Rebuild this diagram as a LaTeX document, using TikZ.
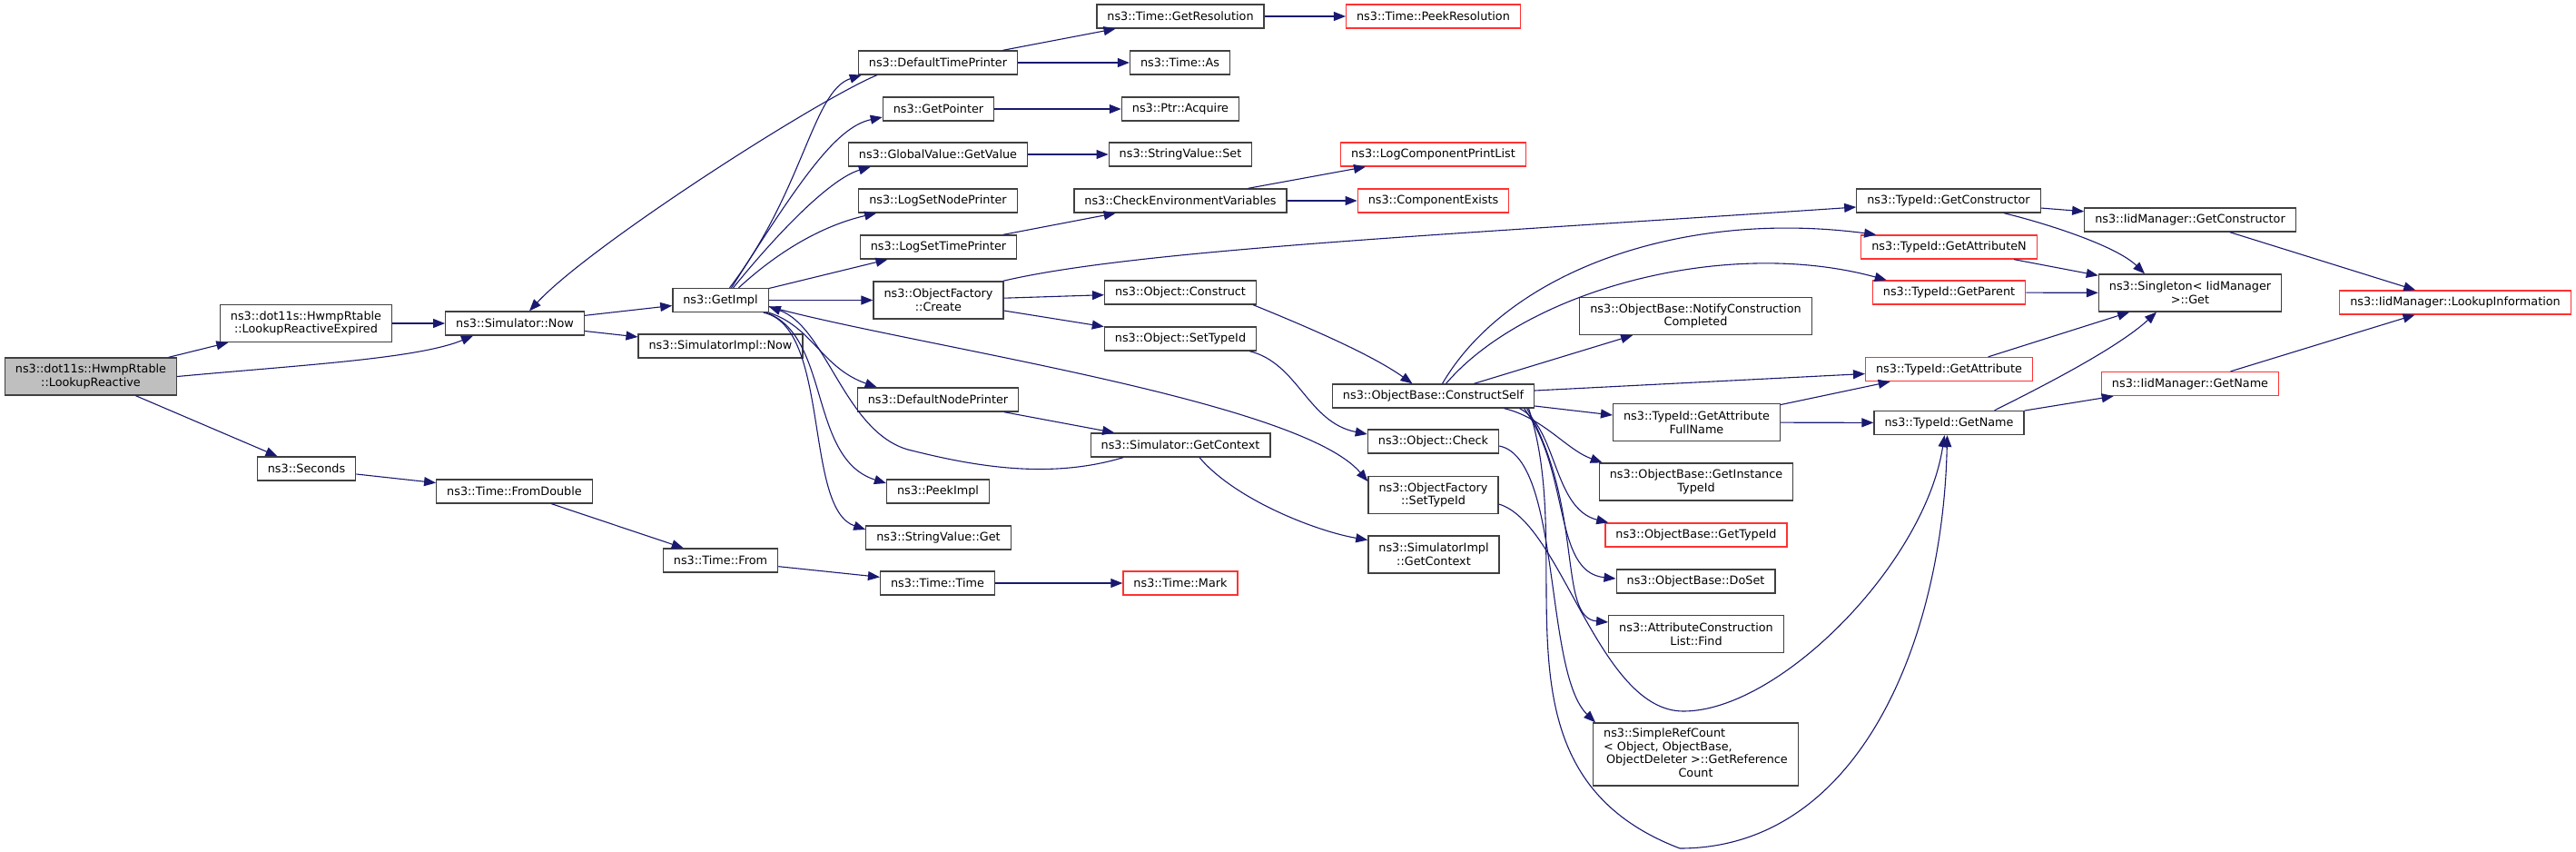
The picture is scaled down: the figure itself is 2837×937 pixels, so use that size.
\documentclass[tikz,border=0pt]{standalone}
\usepackage{fontspec}
\setmainfont{DejaVu Sans}
\usepackage{xcolor}
\usepackage{tikz}
\usetikzlibrary{arrows.meta}
\definecolor{doxblue}{RGB}{25,25,112}
\definecolor{doxred}{RGB}{255,50,50}
\definecolor{doxgray}{RGB}{191,191,191}
\definecolor{doxedge}{RGB}{64,64,64}
\tikzset{
  fnbox/.style={draw=doxedge, line width=1.3pt, fill=white, align=center,
    font=\fontsize{12.8}{14.8}\selectfont, inner xsep=11.5pt, inner ysep=0pt,
    minimum height=26pt},
  two/.style={minimum height=41pt},
  four/.style={minimum height=69pt},
  undoc/.style={draw=doxred},
  mainfn/.style={fill=doxgray},
  calls/.style={draw=doxblue, line width=1.1pt, -{Triangle[length=13pt,width=10pt]}}
}
\newcommand{\fn}[4][]{\node[fnbox,#1] (#2) at (#3) {#4}}

\begin{document}
\begin{tikzpicture}[x=1pt,y=-1pt]
    \useasboundingbox (0,0) rectangle (2837,937);

    \fn[two,mainfn]{lr}{100,414.5}{ns3::dot11s::HwmpRtable\\::LookupReactive};
    \fn[two]{lre}{337,356}{ns3::dot11s::HwmpRtable\\::LookupReactiveExpired};
    \fn{snow}{567,356}{ns3::Simulator::Now};
    \fn{getimpl}{793.5,330.5}{ns3::GetImpl};
    \fn{simplnow}{793.5,381}{ns3::SimulatorImpl::Now};
    \fn{seconds}{337.5,516}{ns3::Seconds};
    \fn{fromdouble}{566.5,541}{ns3::Time::FromDouble};
    \fn{tfrom}{793.5,617}{ns3::Time::From};

    \fn{dtp}{1033,69}{ns3::DefaultTimePrinter};
    \fn{getptr}{1033.5,120}{ns3::GetPointer};
    \fn{gvget}{1033,170}{ns3::GlobalValue::GetValue};
    \fn{lsnp}{1033,221}{ns3::LogSetNodePrinter};
    \fn{lstp}{1033.5,272}{ns3::LogSetTimePrinter};
    \fn[two]{ofcreate}{1033.5,330.5}{ns3::ObjectFactory\\::Create};
    \fn{dnp}{1033,440}{ns3::DefaultNodePrinter};
    \fn{peekimpl}{1033,541}{ns3::PeekImpl};
    \fn{svget}{1033.5,592}{ns3::StringValue::Get};
    \fn{ttime}{1032.5,642}{ns3::Time::Time};

    \fn{getres}{1300,18}{ns3::Time::GetResolution};
    \fn{timeas}{1299.5,69}{ns3::Time::As};
    \fn{acquire}{1300,120}{ns3::Ptr::Acquire};
    \fn{svset}{1300,170}{ns3::StringValue::Set};
    \fn{cev}{1300,221}{ns3::CheckEnvironmentVariables};
    \fn{oconstruct}{1300,322}{ns3::Object::Construct};
    \fn{osettid}{1300,373}{ns3::Object::SetTypeId};
    \fn{sgctx}{1300,490}{ns3::Simulator::GetContext};
    \fn[undoc]{tmark}{1300,642}{ns3::Time::Mark};

    \fn[undoc]{peekres}{1578.5,18}{ns3::Time::PeekResolution};
    \fn[undoc]{lcpl}{1578.5,170}{ns3::LogComponentPrintList};
    \fn[undoc]{compex}{1578.5,221}{ns3::ComponentExists};
    \fn{cself}{1578.5,436}{ns3::ObjectBase::ConstructSelf};
    \fn{ocheck}{1578.5,486}{ns3::Object::Check};
    \fn[two]{ofsettid}{1578.5,545}{ns3::ObjectFactory\\::SetTypeId};
    \fn[two]{simplctx}{1579,610.5}{ns3::SimulatorImpl\\::GetContext};

    \fn[two]{notify}{1867.5,348}{ns3::ObjectBase::NotifyConstruction\\Completed};
    \fn[two]{gafull}{1868.5,465}{ns3::TypeId::GetAttribute\\FullName};
    \fn[two]{gitid}{1868,530.5}{ns3::ObjectBase::GetInstance\\TypeId};
    \fn[undoc]{gtid}{1868,589}{ns3::ObjectBase::GetTypeId};
    \fn{doset}{1867.5,640}{ns3::ObjectBase::DoSet};
    \fn[two]{find}{1868,698}{ns3::AttributeConstruction\\List::Find};
    \fn[four]{srefc}{1867.5,830.5}{\begin{tabular}{@{}l@{}}ns3::SimpleRefCount\\
      < Object, ObjectBase,\\ \hspace{3pt}ObjectDeleter >::GetReference\\
      \multicolumn{1}{@{}c@{}}{Count}\end{tabular}};

    \fn{getctor}{2146,221}{ns3::TypeId::GetConstructor};
    \fn[undoc]{gattrn}{2146.5,272}{ns3::TypeId::GetAttributeN};
    \fn[undoc]{gparent}{2146.5,322}{ns3::TypeId::GetParent};
    \fn[undoc]{gattr}{2146.5,406.5}{ns3::TypeId::GetAttribute};
    \fn{getname}{2146.5,465.5}{ns3::TypeId::GetName};

    \fn{iidgetctor}{2412,242}{ns3::IidManager::GetConstructor};
    \fn[two]{singleton}{2412,322.5}{ns3::Singleton< IidManager\\>::Get};
    \fn[undoc]{iidgetname}{2412,422.5}{ns3::IidManager::GetName};
    \fn[undoc]{lookupinfo}{2704,333}{ns3::IidManager::LookupInformation};

    % callers on the left
    \draw[calls] (lr) -- (lre);
    \draw[calls] (lr.east) .. controls (330,402) and (460,395) .. ([xshift=-46]snow.south);
    \draw[calls] (lr) -- (seconds);
    \draw[calls] (lre) -- (snow);
    \draw[calls] (snow) -- (getimpl);
    \draw[calls] (snow) -- (simplnow);
    \draw[calls] ([xshift=-67]dtp.south) .. controls (900,110) and (650,270) .. ([xshift=16]snow.north);
    \draw[calls] (seconds) -- (fromdouble);
    \draw[calls] (fromdouble) -- (tfrom);
    \draw[calls] (tfrom) -- (ttime);
    \draw[calls] (ttime) -- (tmark);

    % GetImpl
    \draw[calls] ([xshift=10]getimpl.north) .. controls (885,210) and (895,100) .. ([xshift=4]dtp.south west);
    \draw[calls] ([xshift=12]getimpl.north) .. controls (880,200) and (920,140) .. ([yshift=-9]getptr.west);
    \draw[calls] ([xshift=14]getimpl.north) .. controls (870,240) and (920,195) .. ([xshift=25]gvget.south west);
    \draw[calls] ([xshift=20]getimpl.north) .. controls (870,265) and (920,245) .. ([xshift=20]lsnp.south west);
    \draw[calls] (getimpl) -- (lstp);
    \draw[calls] (getimpl) -- (ofcreate);
    \draw[calls] ([yshift=-7]getimpl.east) .. controls (1000,380) and (1430,440) .. ([yshift=15]ofsettid.west);
    \draw[calls] (getimpl.south east) .. controls (895,360) and (905,405) .. ([xshift=22]dnp.north west);
    \draw[calls] ([xshift=-3]getimpl.south east) .. controls (915,370) and (890,505) .. ([yshift=9]peekimpl.west);
    \draw[calls] ([xshift=-6]getimpl.south east) .. controls (915,360) and (885,560) .. ([yshift=9]svget.west);
    \draw[calls] ([xshift=-63]sgctx.south) .. controls (1150,530) and (1060,510) .. (1000,495)
        .. controls (930,475) and (910,360) .. ([yshift=-7]getimpl.east);

    % second column
    \draw[calls] (dtp) -- (getres);
    \draw[calls] (dtp) -- (timeas);
    \draw[calls] (getres) -- (peekres);
    \draw[calls] (getptr) -- (acquire);
    \draw[calls] (gvget) -- (svset);
    \draw[calls] (lstp) -- (cev);
    \draw[calls] (cev) -- (lcpl);
    \draw[calls] (cev) -- (compex);
    \draw[calls] (ofcreate) -- (oconstruct);
    \draw[calls] (ofcreate) -- (osettid);
    \draw[calls] ([xshift=-1]ofcreate.north east) .. controls (1250,275) and (1600,258) .. ([yshift=-7]getctor.west);
    \draw[calls] (dnp) -- (sgctx);
    \draw[calls] ([xshift=21]sgctx.south) .. controls (1360,550) and (1450,585) .. ([yshift=16]simplctx.west);
    \draw[calls] ([xshift=-4]oconstruct.south east) .. controls (1440,360) and (1510,390) .. ([xshift=-23]cself.north);
    \draw[calls] ([xshift=-8]osettid.south east) .. controls (1430,400) and (1440,465) .. ([yshift=8]ocheck.west);

    % ConstructSelf
    \draw[calls] (cself) -- (notify);
    \draw[calls] ([xshift=10]cself.north) .. controls (1660,300) and (1850,230) .. ([xshift=17]gattrn.north west);
    \draw[calls] ([xshift=14]cself.north) .. controls (1680,320) and (1900,260) .. ([xshift=16]gparent.north west);
    \draw[calls] ([yshift=6]cself.east) -- ([yshift=-5]gattr.west);
    \draw[calls] ([yshift=-11]cself.east) -- ([yshift=8]gafull.west);
    \draw[calls] ([xshift=78]cself.south) .. controls (1700,460) and (1725,495) .. ([xshift=4]gitid.north west);
    \draw[calls] ([xshift=95]cself.south) .. controls (1715,470) and (1710,560) .. ([xshift=4]gtid.north west);
    \draw[calls] ([xshift=100]cself.south) .. controls (1730,520) and (1710,630) .. ([yshift=3]doset.west);
    \draw[calls] ([xshift=103]cself.south) .. controls (1745,560) and (1715,680) .. ([yshift=13]find.west);
    \draw[calls] ([xshift=105]cself.south) .. controls (1740,620) and (1630,850) .. (1850,934)
        .. controls (2050,934) and (2140,700) .. ([xshift=-2]getname.south);
    \draw[calls] ([yshift=-5]ocheck.east) .. controls (1720,505) and (1700,740) .. ([xshift=3]srefc.north west);
    \draw[calls] ([yshift=-10]ofsettid.east) .. controls (1720,575) and (1760,783) .. (1854,783)
        .. controls (1960,783) and (2120,620) .. ([xshift=-5]getname.south);

    % TypeId and IidManager
    \draw[calls] (gafull) -- (gattr);
    \draw[calls] (gafull) -- (getname);
    \draw[calls] (getctor) -- (iidgetctor);
    \draw[calls] ([xshift=61]getctor.south) .. controls (2250,245) and (2330,270) .. ([xshift=-50]singleton.north);
    \draw[calls] (gattrn) -- (singleton);
    \draw[calls] (gparent) -- (singleton);
    \draw[calls] (gattr) -- (singleton);
    \draw[calls] ([xshift=50]getname.north) .. controls (2240,430) and (2330,385) .. ([xshift=-37]singleton.south);
    \draw[calls] (getname) -- (iidgetname);
    \draw[calls] (iidgetctor) -- (lookupinfo);
    \draw[calls] (iidgetname) -- (lookupinfo);
\end{tikzpicture}
\end{document}
